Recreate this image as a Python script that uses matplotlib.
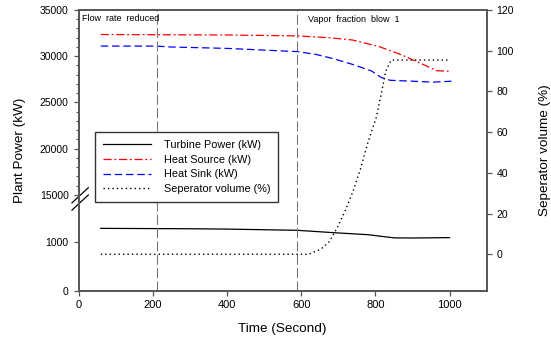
import numpy as np
import matplotlib
matplotlib.use('Agg')
from matplotlib import pyplot as plt

plt.rcParams['font.family'] = ['Liberation Sans', 'DejaVu Sans']

# values
t_turbine = [60, 300, 400, 590, 690, 780, 850, 900, 1000]
turbine = [1280, 1272, 1265, 1240, 1190, 1150, 1085, 1082, 1090]

t_source = [60, 400, 590, 676, 738, 811, 865, 928, 965, 1005]
source = [32350, 32300, 32200, 32000, 31760, 31030, 30240, 29130, 28440, 28370]

t_sink = [60, 210, 250, 400, 590, 640, 690, 740, 790, 816, 840, 900, 955, 1005]
sink = [31100, 31100, 31000, 30850, 30500, 30200, 29700, 29100, 28400, 27700, 27400, 27300, 27200, 27300]

t_sep = [60, 620, 653, 676, 700, 720, 740, 760, 780, 802, 815, 828, 843, 995]
sep = [0, 0, 2.5, 6.2, 14, 22, 31, 42, 55, 67, 78, 90, 95.4, 95.4]

events = [212, 590]
event_labels = ['Flow  rate  reduced', 'Vapor  fraction  blow  1']

# broken left axis: piecewise linear scale
kv = [-10000, 0, 1500, 15000, 35000, 60000]
kp = [-487, 0, 73.05, 95.7, 280.7, 512]
fwd = lambda v: np.interp(v, kv, kp)
inv = lambda p: np.interp(p, kp, kv)

fig = plt.figure(figsize=(5.51, 3.39), dpi=100)
ax = fig.add_axes([0.1425, 0.1425, 0.7408, 0.828])
ax2 = ax.twinx()

ax.set_yscale('function', functions=(fwd, inv))
ax.set_ylim(0, 35000)
ax.set_xlim(0, 1100)
ax2.set_ylim(-17.9, 120)

edge = '#555555'
for a in (ax, ax2):
    for s in a.spines.values():
        s.set_color(edge)
        s.set_linewidth(1.2)
    a.tick_params(direction='out', color=edge, labelsize=7.5, length=3.5, width=0.9)

l1, = ax.plot(t_turbine, turbine, color='black', lw=0.9)
l2, = ax.plot(t_source, source, color='red', lw=0.9, dashes=(6.5, 2.2, 1.5, 2.2))
l3, = ax.plot(t_sink, sink, color='blue', lw=0.9, dashes=(6, 3))
l4, = ax2.plot(t_sep, sep, color='black', lw=1.0, dashes=(1, 2.2))

for x in events:
    ax.axvline(x, color='#777777', lw=0.8, dashes=(9, 3))
ax.text(0.0086, 0.986, event_labels[0], transform=ax.transAxes, fontsize=6.5, va='top', ha='left')
ax.text(0.562, 0.982, event_labels[1], transform=ax.transAxes, fontsize=6.5, va='top', ha='left')

ax.set_xticks([0, 200, 400, 600, 800, 1000])
ax.set_yticks([0, 1000, 15000, 20000, 25000, 30000, 35000])
ax.set_yticks([v for v in range(16000, 35000, 1000) if v % 5000], minor=True)
ax.tick_params(which='minor', direction='out', color=edge, length=2, width=0.8)
ax.tick_params(axis='x', labelsize=8)
ax2.set_yticks([0, 20, 40, 60, 80, 100, 120])

ax.set_xlabel('Time (Second)', fontsize=9.7, labelpad=9)
ax.set_ylabel('Plant Power (kW)', fontsize=9.7, labelpad=10)
ax2.set_ylabel('Seperator volume (%)', fontsize=9.7, labelpad=18)

# break marks on the left axis
for off in (-0.013, 0.013):
    ax.plot([-0.016, 0.024], [0.300 + off, 0.354 + off], transform=ax.transAxes,
            color='black', lw=0.9, clip_on=False)

leg = ax2.legend([l1, l2, l3, l4],
                 ['Turbine Power (kW)', 'Heat Source (kW)', 'Heat Sink (kW)', 'Seperator volume (%)'],
                 loc='upper left', bbox_to_anchor=(0.0404, 0.565), borderaxespad=0,
                 fontsize=7.8, handlelength=4.4, handletextpad=1.2, labelspacing=0.42,
                 fancybox=False, framealpha=1, borderpad=0.75)
leg.get_frame().set_edgecolor('#333333')
leg.get_frame().set_linewidth(1.0)

fig.savefig('out.png', dpi=100)
